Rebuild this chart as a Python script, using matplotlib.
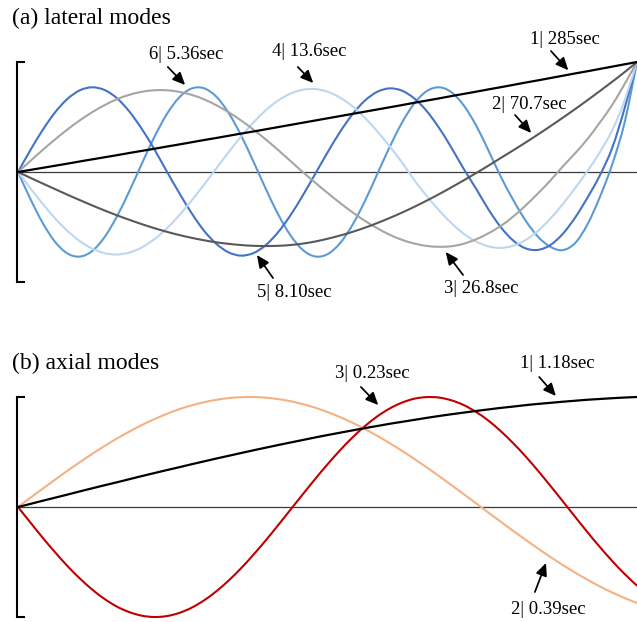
import matplotlib
matplotlib.use("Agg")
import matplotlib.pyplot as plt
from matplotlib.path import Path
from matplotlib.patches import PathPatch

# Position along the line, normalised 0 (anchor) .. 1 (free end)
s = [0.00, 0.02, 0.04, 0.06, 0.08, 0.10, 0.12, 0.14, 0.16, 0.18,
     0.20, 0.22, 0.24, 0.26, 0.28, 0.30, 0.32, 0.34, 0.36, 0.38,
     0.40, 0.42, 0.44, 0.46, 0.48, 0.50, 0.52, 0.54, 0.56, 0.58,
     0.60, 0.62, 0.64, 0.66, 0.68, 0.70, 0.72, 0.74, 0.76, 0.78,
     0.80, 0.82, 0.84, 0.86, 0.88, 0.90, 0.92, 0.94, 0.96, 0.98, 1.00]

# (a) lateral mode shapes, normalised to the free-end deflection
lat_mode1 = [0, .019, .038, .057, .076, .096, .115, .134, .153, .173, .192, .211, .231,
             .250, .270, .290, .309, .329, .349, .368, .388, .408, .428, .448, .468, .488,
             .508, .528, .548, .568, .588, .608, .629, .649, .669, .690, .710, .730, .751,
             .771, .792, .813, .833, .854, .875, .896, .916, .937, .958, .979, 1.0]
lat_mode2 = [0, -.053, -.105, -.156, -.207, -.256, -.304, -.350, -.394, -.435, -.474,
             -.510, -.543, -.572, -.598, -.620, -.639, -.653, -.664, -.671, -.673,
             -.671, -.664, -.651, -.632, -.607, -.578, -.545, -.507, -.465, -.419,
             -.370, -.317, -.261, -.202, -.140, -.076, -.010, .058, .128,
             .197, .268, .341, .416, .493, .572, .653, .736, .821, .908, 1.0]
lat_mode3 = [0, .101, .201, .297, .387, .470, .544, .608, .662, .702, .729, .743, .743,
             .729, .702, .662, .608, .544, .470, .387, .297, .201, .101, 0,
             -.096, -.190, -.280, -.365, -.442, -.510, -.569, -.616, -.650, -.672, -.680,
             -.675, -.652, -.612, -.557, -.490, -.405, -.305, -.195, -.078,
             .05, .17, .30, .45, .61, .80, 1.0]
lat_mode4 = [0, -.148, -.290, -.422, -.536, -.629, -.697, -.738, -.750, -.732, -.686,
             -.612, -.515, -.396, -.263, -.119, .030, .178, .320, .448, .560, .649,
             .712, .747, .754, .730, .677, .599, .495, .373, .236, .090,
             -.072, -.215, -.347, -.464, -.561, -.632, -.676, -.690,
             -.671, -.618, -.535, -.424, -.293, -.146, .008, .18, .38, .65, 1.0]
lat_mode5 = [0, .199, .383, .543, .665, .743, .770, .745, .670, .549, .392, .209, .009,
             -.186, -.370, -.530, -.651, -.730, -.760, -.738, -.666, -.549, -.395, -.214,
             -.019, .177, .362, .522, .647, .728, .760, .740, .670, .556, .403, .223, .029,
             -.151, -.340, -.502, -.623, -.694, -.708, -.664, -.563, -.415, -.233, -.031,
             .22, .58, 1.0]
lat_mode6 = [0, -.245, -.464, -.636, -.741, -.769, -.718, -.591, -.402, -.173, .075,
             .315, .522, .675, .758, .762, .687, .540, .337, .099, -.149, -.382, -.574,
             -.708, -.768, -.747, -.649, -.484, -.269, -.024, .222, .445, .622, .734, .770,
             .726, .606, .424, .196,
             -.043, -.254, -.441, -.588, -.680, -.710, -.646, -.476, -.228, .07, .45, 1.0]

# (b) axial mode shapes, normalised to the largest deflection
ax_mode1 = [0, .028, .057, .085, .113, .142, .170, .198, .225, .253, .281, .308, .335,
            .361, .388, .414, .440, .465, .490, .515, .539, .563, .586, .609, .632, .654,
            .675, .696, .717, .736, .756, .774, .792, .810, .827, .843, .858, .873, .887,
            .901, .913, .926, .937, .947, .957, .966, .975, .982, .989, .995, 1.0]
ax_mode2 = [0, .084, .167, .249, .330, .408, .483, .555, .623, .686, .745, .798, .846,
            .888, .923, .952, .974, .990, .998, 1.000, .994, .981, .962, .935, .903, .863,
            .818, .767, .710, .648, .582, .512, .438, .361, .282, .200, .117, .034, -.051,
            -.134, -.217, -.298, -.377, -.454, -.527, -.596, -.661, -.722, -.777, -.828, -.872]
ax_mode3 = [0, -.141, -.280, -.412, -.537, -.650, -.751, -.837, -.906, -.956, -.988, -1.0,
            -.992, -.964, -.917, -.851, -.768, -.670, -.559, -.436, -.305, -.167, -.026,
            .115, .254, .388, .514, .630, .733, .822, .894, .948, .984, .999, .995, .970,
            .927, .864, .785, .689, .580, .460, .330, .193, .053, -.089, -.229, -.364,
            -.491, -.609, -.715]

lat_labels = ["1| 285sec", "2| 70.7sec", "3| 26.8sec", "4| 13.6sec", "5| 8.10sec", "6| 5.36sec"]
ax_labels = ["1| 1.18sec", "2| 0.39sec", "3| 0.23sec"]

lat_colors = ["#000000", "#595959", "#a5a5a5", "#bdd7ee", "#4472c4", "#5b9bd5"]
ax_colors = ["#000000", "#f4b183", "#c00000"]

plt.rcParams["font.family"] = ["Liberation Serif", "DejaVu Serif"]

W, H = 637, 622
fig = plt.figure(figsize=(W / 100, H / 100), dpi=100)
fig.patch.set_facecolor("white")

x0, x1 = 18, 637
ax_a = fig.add_axes([x0 / W, (H - 282) / H, (x1 - x0) / W, 220 / H])
ax_b = fig.add_axes([x0 / W, (H - 617) / H, (x1 - x0) / W, 220 / H])


def smooth_line(ax, x, y, color, lw, z):
    """Draw a smoothed line (Catmull-Rom style Bezier segments) through the samples."""
    pts = list(zip(x, y))
    n = len(pts)
    verts = [pts[0]]
    codes = [Path.MOVETO]
    for i in range(n - 1):
        p0 = pts[i - 1] if i > 0 else pts[i]
        p1 = pts[i]
        p2 = pts[i + 1]
        p3 = pts[i + 2] if i + 2 < n else pts[i + 1]
        c1 = (p1[0] + (p2[0] - p0[0]) / 6, p1[1] + (p2[1] - p0[1]) / 6)
        c2 = (p2[0] - (p3[0] - p1[0]) / 6, p2[1] - (p3[1] - p1[1]) / 6)
        verts += [c1, c2, p2]
        codes += [Path.CURVE4] * 3
    patch = PathPatch(Path(verts, codes), fill=False, edgecolor=color, lw=lw,
                      zorder=z, clip_on=False, capstyle="round", joinstyle="round")
    ax.add_patch(patch)


def frame(ax):
    ax.set_xlim(0, 1)
    ax.set_ylim(-1, 1)
    ax.axis("off")
    ax.plot([0, 1], [0, 0], color="#3a3a3a", lw=0.9, zorder=1, clip_on=False)
    bx0, bx1 = -0.0016, 0.0105
    ax.plot([bx1, bx0, bx0, bx1], [1, 1, -1, -1], color="black", lw=1.5,
            solid_joinstyle="miter", clip_on=False, zorder=5)


def label(ax, text, txy, tail, head):
    ax.text(txy[0], txy[1], text, ha="center", va="center", fontsize=13.5,
            clip_on=False)
    ax.annotate("", xy=head, xytext=tail, annotation_clip=False,
                arrowprops=dict(arrowstyle="-|>,head_length=0.75,head_width=0.34",
                                color="black", lw=1.25, shrinkA=0, shrinkB=0,
                                mutation_scale=10))


frame(ax_a)
lat = [lat_mode1, lat_mode2, lat_mode3, lat_mode4, lat_mode5, lat_mode6]
for i in range(5, -1, -1):
    smooth_line(ax_a, s, lat[i], lat_colors[i], 1.6 if i == 0 else 1.5,
                2 + (5 - i) * 0.1)

label(ax_a, lat_labels[0], (0.884, 1.20), (0.861, 1.10), (0.889, 0.925))
label(ax_a, lat_labels[1], (0.826, 0.618), (0.803, 0.518), (0.829, 0.355))
label(ax_a, lat_labels[2], (0.749, -1.055), (0.719, -0.936), (0.691, -0.727))
label(ax_a, lat_labels[3], (0.471, 1.091), (0.452, 0.955), (0.477, 0.809))
label(ax_a, lat_labels[4], (0.446, -1.091), (0.412, -0.964), (0.386, -0.755))
label(ax_a, lat_labels[5], (0.272, 1.064), (0.242, 0.955), (0.270, 0.791))

frame(ax_b)
axm = [ax_mode1, ax_mode2, ax_mode3]
for i in range(2, -1, -1):
    smooth_line(ax_b, s, axm[i], ax_colors[i], 1.6 if i == 0 else 1.5,
                2 + (2 - i) * 0.1)

label(ax_b, ax_labels[0], (0.871, 1.309), (0.842, 1.182), (0.869, 1.009))
label(ax_b, ax_labels[1], (0.856, -0.936), (0.835, -0.773), (0.853, -0.509))
label(ax_b, ax_labels[2], (0.572, 1.218), (0.554, 1.091), (0.582, 0.927))

fig.text(12 / W, 1 - 18 / H, "(a) lateral modes", ha="left", va="center", fontsize=17)
fig.text(12 / W, 1 - 363 / H, "(b) axial modes", ha="left", va="center", fontsize=17)

fig.savefig("out.png", dpi=100, facecolor="white")
